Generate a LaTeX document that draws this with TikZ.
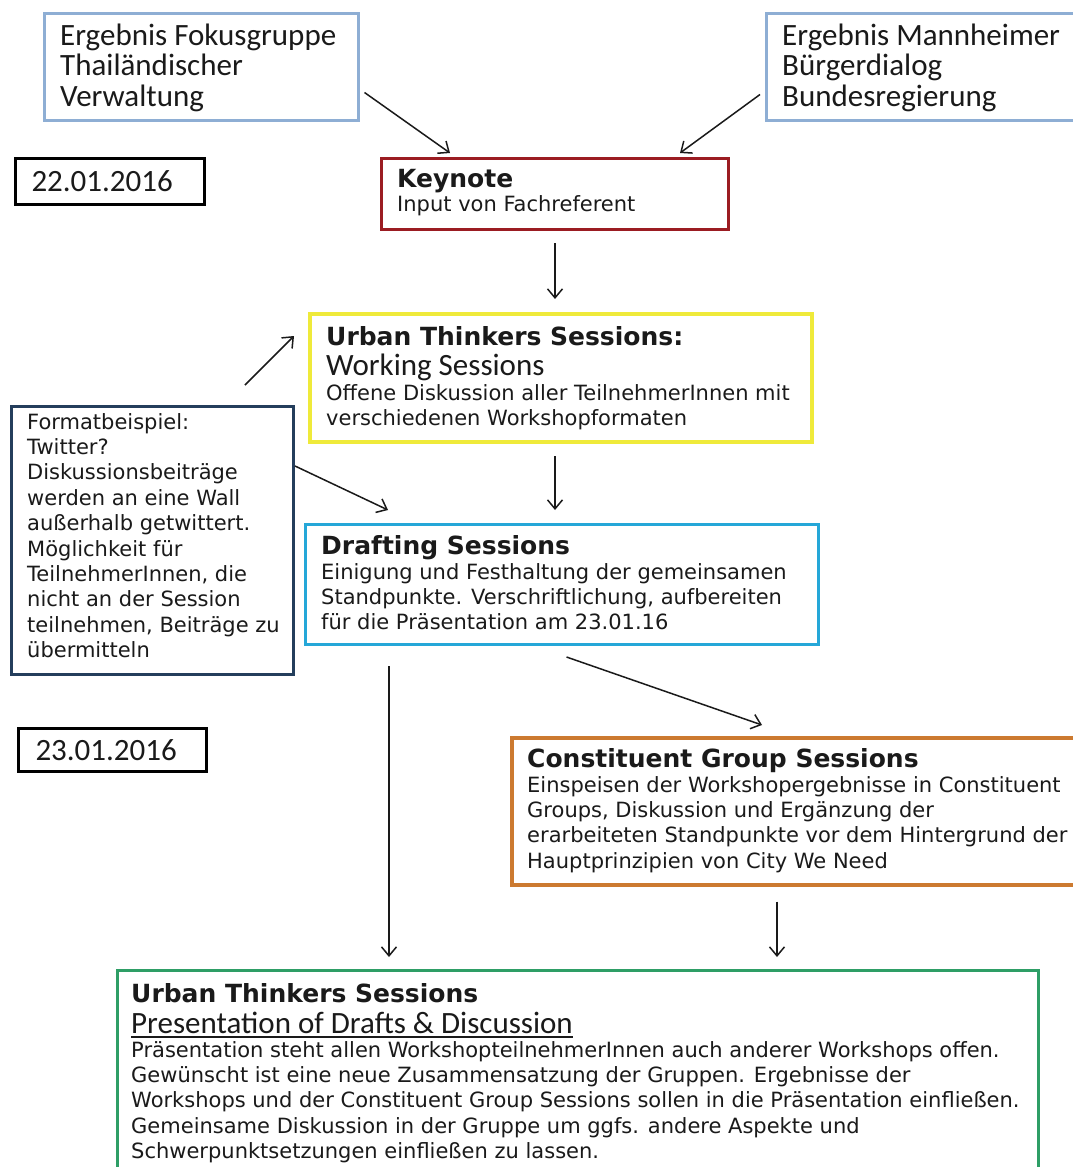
\documentclass[tikz,border=0pt]{standalone}
\usepackage{fontspec}
\setmainfont{DejaVu Sans}
\newfontfamily\calfont{Carlito}
\usetikzlibrary{arrows.meta,calc}
\definecolor{txt}{HTML}{1A1A1A}
\definecolor{cA}{HTML}{8EAED4}
\definecolor{cKey}{HTML}{9B1C22}
\definecolor{cYel}{HTML}{EFEA3A}
\definecolor{cNavy}{HTML}{243E5C}
\definecolor{cCyan}{HTML}{25A7D8}
\definecolor{cOra}{HTML}{CC7A30}
\definecolor{cGrn}{HTML}{2E9E66}
\newcommand\ml[1]{\begin{tabular}[t]{@{}l@{}}#1\end{tabular}}
\tikzset{
  box/.style={draw, anchor=north west, inner sep=0pt, line width=3pt},
  datebox/.style={draw=black, line width=3pt, anchor=north west, inner sep=0pt, align=left,
    font=\calfont\fontsize{31}{30}\selectfont, text=txt},
  body/.style={anchor=base west, inner sep=0pt, font=\fontsize{21}{25.4}\selectfont, text=txt},
  ttl/.style={anchor=base west, inner sep=0pt, font=\fontsize{25}{30}\selectfont\bfseries, text=txt},
  cal/.style={anchor=base west, inner sep=0pt, font=\calfont\fontsize{31}{30}\selectfont, text=txt},
  arr/.style={line width=1.5pt, draw=txt, -{Straight Barb[length=9pt,width=15pt,line width=1.5pt]}},
}
\begin{document}
\begin{tikzpicture}[x=1pt,y=1pt]
\useasboundingbox (0,0) rectangle (1073,-1167);
\fill[white] (0,0) rectangle (1073,-1167);
\clip (0,0) rectangle (1073,-1167);

% boxes
\node[box, draw=cA, line width=2.5pt, minimum width=314pt, minimum height=107pt] (fokus) at (43,-12) {};
\node[box, draw=cA, line width=2.5pt, minimum width=320pt, minimum height=107pt] (mannheim) at (765,-12) {};
\node[datebox, minimum width=189pt, minimum height=46pt, text width=157pt] (date1) at (14,-157) {22.01.2016};
\node[box, draw=cKey, minimum width=347pt, minimum height=71pt] (keynote) at (380,-157) {};
\node[box, draw=cYel, line width=4pt, minimum width=502pt, minimum height=128pt] (uts) at (308,-312) {};
\node[box, draw=cNavy, minimum width=282pt, minimum height=268pt] (format) at (10,-405) {};
\node[box, draw=cCyan, minimum width=513pt, minimum height=120pt] (drafting) at (304,-523) {};
\node[datebox, minimum width=188pt, minimum height=43pt, text width=154pt] (date2) at (17,-727) {23.01.2016};
\node[box, draw=cOra, line width=3.5pt, minimum width=580pt, minimum height=147pt] (const) at (510,-736) {};
\node[box, draw=cGrn, minimum width=921pt, minimum height=230pt] (green) at (116,-969) {};

% texts
\node[cal] (fokustxt) at (60,-45) {\ml{Ergebnis Fokusgruppe\\Thailändischer\\Verwaltung}};
\node[cal] (mannheimtxt) at (782,-45) {\ml{Ergebnis Mannheimer\\Bürgerdialog\\Bundesregierung}};

\node[ttl] (keytitle) at (397,-187) {Keynote};
\node[body] (keybody) at (397,-211) {Input von Fachreferent};

\node[ttl] (utstitle) at (326,-345) {Urban Thinkers Sessions:};
\node[cal] (utssub) at (326,-375) {Working Sessions};
\node[body] (utsbody) at (326,-400) {\ml{Offene Diskussion aller TeilnehmerInnen mit\\verschiedenen Workshopformaten}};

\node[body] (formattxt) at (27,-429) {\ml{Formatbeispiel:\\Twitter?\\Diskussionsbeiträge\\werden an eine Wall\\außerhalb getwittert.\\Möglichkeit für\\TeilnehmerInnen, die\\nicht an der Session\\teilnehmen, Beiträge zu\\übermitteln}};

\node[ttl] (drtitle) at (321,-554) {Drafting Sessions};
\node[body] (drbody) at (321,-579) {\ml{Einigung und Festhaltung der gemeinsamen\\Standpunkte. Verschriftlichung, aufbereiten\\für die Präsentation am 23.01.16}};

\node[ttl] (consttitle) at (527,-767) {Constituent Group Sessions};
\node[body] (constbody) at (527,-792) {\ml{Einspeisen der Workshopergebnisse in Constituent\\Groups, Diskussion und Ergänzung der\\erarbeiteten Standpunkte vor dem Hintergrund der\\Hauptprinzipien von City We Need}};

\node[ttl] (greentitle) at (131,-1002) {Urban Thinkers Sessions};
\node[cal] (greensub) at (131,-1033) {Presentation of Drafts \& Discussion};
\draw[txt, line width=1.5pt] ($(greensub.base west)+(0,-4)$) -- ($(greensub.base east)+(0,-4)$);
\node[body] (greenbody) at (131,-1057) {\ml{Präsentation steht allen WorkshopteilnehmerInnen auch anderer Workshops offen.\\Gewünscht ist eine neue Zusammensatzung der Gruppen. Ergebnisse der\\Workshops und der Constituent Group Sessions sollen in die Präsentation einfließen.\\Gemeinsame Diskussion in der Gruppe um ggfs. andere Aspekte und\\Schwerpunktsetzungen einfließen zu lassen.}};

% connectors
\draw[arr] ($(fokus.south east)+(5,29)$) -- ($(keynote.north west)+(70,4)$);
\draw[arr] ($(mannheim.south west)+(-5,27)$) -- ($(keynote.north east)+(-50,4)$);
\draw[arr] ($(keynote.south)+(0,-12)$) -- ($(keynote.south |- uts.north)+(0,13)$);
\draw[arr] ($(format.north east)+(-50,20)$) -- ($(uts.north west)+(-14,-24)$);
\draw[arr] ($(format.north east)+(0,-61)$) -- ($(drafting.north west)+(84,13)$);
\draw[arr] ($(keynote.south |- uts.south)+(0,-12)$) -- ($(keynote.south |- drafting.north)+(0,13)$);
\draw[arr] ($(drafting.south)+(4.5,-11)$) -- ($(const.north west)+(252,11)$);
\coordinate (d1) at ($(drafting.south west)+(85,-20)$);
\draw[arr] (d1) -- ($(d1 |- green.north)+(0,12)$);
\coordinate (c1) at ($(const.south west)+(267,-15)$);
\draw[arr] (c1) -- ($(c1 |- green.north)+(0,12)$);
\end{tikzpicture}
\end{document}
